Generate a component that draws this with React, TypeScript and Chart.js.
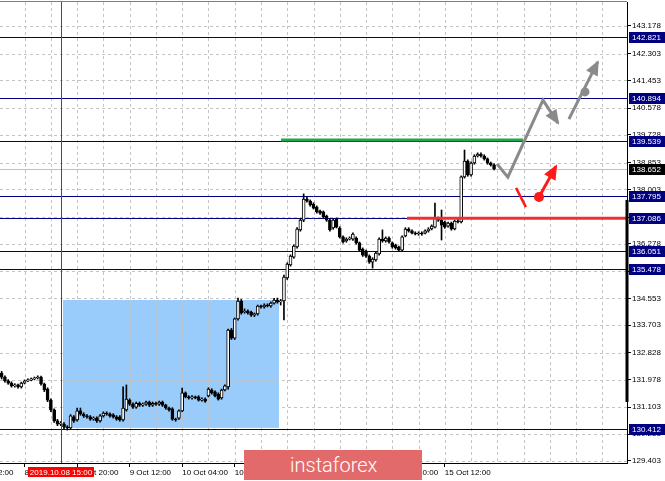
import React, { useEffect, useRef } from "react";
import { Chart, registerables } from "chart.js";
Chart.register(...registerables);

// ---- candle data (hourly bars, index 0 = 7 Oct 21:00) ----
const OPEN = [132.18,132.06,131.94,131.87,131.78,131.81,131.75,131.87,131.94,131.97,132.00,132.03,132.06,131.84,131.68,131.33,131.02,130.67,130.57,130.57,130.48,130.45,130.80,130.70,130.99,130.89,130.83,130.80,130.73,130.76,130.67,130.83,130.92,130.89,130.86,130.80,130.80,130.70,131.02,131.33,131.20,131.11,131.23,131.17,131.20,131.27,131.17,131.23,131.20,131.27,131.17,131.08,131.05,130.73,130.76,130.99,131.56,131.43,131.40,131.43,131.43,131.33,131.36,131.46,131.65,131.59,131.52,131.40,131.65,131.75,133.55,133.29,133.90,134.47,134.12,134.15,134.12,134.02,134.06,134.31,134.28,134.34,134.31,134.40,134.50,134.44,134.47,135.20,135.61,135.86,136.18,136.72,137.03,137.70,137.63,137.54,137.44,137.32,137.29,137.16,137.03,136.78,137.06,136.78,136.50,136.37,136.43,136.43,136.46,136.31,136.11,136.05,135.89,135.70,135.77,135.96,136.43,136.37,136.46,136.31,136.24,136.18,136.08,136.53,136.75,136.69,136.62,136.59,136.62,136.62,136.69,136.75,136.81,137.10,137.03,136.97,136.84,136.94,136.75,137.00,136.97,138.40,138.90,138.46,138.84,139.06,139.12,139.06,138.97,138.84,138.78];
const HIGH = [132.24,132.10,131.98,131.91,131.85,131.84,131.90,131.97,132.00,132.03,132.06,132.10,132.09,131.87,131.72,131.37,131.05,130.72,130.65,130.62,130.52,130.87,130.84,131.08,131.08,130.93,130.87,130.84,130.80,130.80,130.87,130.96,130.96,130.93,130.90,130.84,130.84,131.75,131.81,131.37,131.24,131.27,131.27,131.24,131.30,131.30,131.27,131.27,131.30,131.30,131.20,131.11,131.09,130.76,131.02,131.71,131.59,131.47,131.47,131.46,131.47,131.40,131.40,131.72,131.69,131.62,131.56,131.68,131.81,133.58,133.60,133.93,134.56,134.52,134.22,134.19,134.15,134.09,134.34,134.34,134.38,134.38,134.44,134.55,134.56,134.52,135.29,135.68,135.93,136.25,136.79,137.08,137.86,137.76,137.67,137.58,137.48,137.35,137.32,137.19,137.07,137.07,137.10,136.82,136.53,136.47,136.50,136.63,136.50,136.34,136.15,136.08,135.93,135.84,136.02,136.47,136.72,136.50,136.50,136.34,136.27,136.21,136.53,136.79,136.79,136.72,136.66,136.66,136.66,136.72,136.79,136.88,137.57,137.13,137.35,137.00,136.97,136.97,137.03,137.06,138.43,139.25,138.94,138.88,139.10,139.16,139.16,139.10,139.00,138.87,138.81];
const LOW = [132.00,131.90,131.83,131.74,131.74,131.71,131.71,131.84,131.91,131.94,131.97,132.00,131.80,131.60,131.28,130.96,130.62,130.52,130.52,130.42,130.38,130.41,130.62,130.66,130.85,130.78,130.76,130.69,130.69,130.62,130.63,130.79,130.85,130.79,130.76,130.69,130.66,130.66,130.98,131.16,131.07,131.07,131.13,131.13,131.16,131.12,131.13,131.16,131.16,131.13,131.04,130.98,130.69,130.66,130.72,130.96,131.40,131.36,131.36,131.37,131.30,131.30,131.26,131.43,131.52,131.43,131.33,131.36,131.62,131.68,133.25,133.25,133.86,134.05,134.08,134.05,133.98,133.97,134.02,134.24,134.24,134.28,134.27,134.37,134.40,134.34,133.87,135.15,135.57,135.82,136.14,136.68,136.98,137.60,137.47,137.38,137.25,137.21,137.09,136.99,136.68,136.74,136.78,136.46,136.30,136.33,136.40,136.39,136.27,136.04,135.88,135.85,135.66,135.51,135.73,135.92,136.33,136.33,136.30,136.14,136.11,136.04,136.04,136.50,136.65,136.59,136.56,136.55,136.55,136.59,136.65,136.72,136.78,136.99,136.40,136.77,136.81,136.71,136.72,136.94,136.94,138.36,138.42,138.42,138.80,139.03,139.02,138.93,138.80,138.74,138.62];
const CLOSE = [132.06,131.94,131.87,131.78,131.81,131.75,131.87,131.94,131.97,132.00,132.03,132.06,131.84,131.65,131.33,131.02,130.67,130.57,130.60,130.48,130.45,130.83,130.67,130.99,130.89,130.83,130.80,130.73,130.76,130.67,130.83,130.92,130.89,130.83,130.80,130.73,130.70,131.08,131.36,131.20,131.11,131.23,131.17,131.20,131.27,131.17,131.23,131.20,131.27,131.17,131.08,131.02,130.73,130.70,130.99,131.56,131.43,131.40,131.43,131.40,131.33,131.36,131.30,131.68,131.56,131.46,131.36,131.65,131.78,133.55,133.29,133.90,134.47,134.09,134.15,134.09,134.02,134.06,134.31,134.28,134.34,134.31,134.40,134.50,134.44,134.47,135.23,135.64,135.89,136.21,136.75,137.03,137.70,137.63,137.51,137.41,137.29,137.25,137.13,137.03,136.72,137.03,136.81,136.50,136.34,136.43,136.46,136.59,136.31,136.08,135.92,135.89,135.70,135.80,135.99,136.43,136.37,136.46,136.34,136.18,136.15,136.08,136.50,136.75,136.69,136.62,136.59,136.62,136.59,136.69,136.75,136.84,137.10,137.03,136.87,136.81,136.94,136.75,137.00,136.97,138.40,138.90,138.46,138.84,139.06,139.12,139.06,138.97,138.84,138.78,138.652];

// ---- axes ----
const X_MIN = -0.5;
const X_MAX = 190.5;
const Y_MIN = 129.338;
const Y_MAX = 143.938;
const X_TICK_INDEX = [-9, 7, 23, 39, 55, 71, 87, 103, 119, 135];
const X_TICK_LABELS = ["7 Oct 12:00", "8 Oct 04:00", "8 Oct 20:00", "9 Oct 12:00", "10 Oct 04:00", "10 Oct 20:00", "11 Oct 12:00", "14 Oct 04:00", "14 Oct 20:00", "15 Oct 12:00"];
const X_GRID_INDEX = [7, 15, 23, 31, 39, 47, 55, 63, 71, 79, 87, 95, 103, 111, 119, 127, 135, 143, 151, 159, 167, 175, 183];
const Y_TICKS = [143.178, 142.303, 141.453, 140.578, 139.728, 138.853, 138.003, 137.128, 136.278, 135.403, 134.553, 133.703, 132.828, 131.978, 131.103, 130.253, 129.403];

// ---- levels & annotations ----
const LEVELS = [142.821, 140.894, 139.539, 137.795, 137.086, 136.051, 135.478, 130.412];
const CURRENT_PRICE = 138.652;
const MARKER_INDEX = 18;
const MARKER_LABEL = "2019.10.08 15:00";
const RECT_X = [18.7, 84.5];
const RECT_Y = [130.45, 134.5];
const AXIS_BAR_Y = [131.27, 137.67];
const GREEN_X = [85.1, 158.8];
const GREEN_Y = 139.57;
const RED_X = [123.5, 190.5];
const RED_Y = 137.086;
const GREY_PATH_1_X = [150.9, 154.2, 164.9, 169.5];
const GREY_PATH_1_Y = [138.81, 138.39, 140.83, 140.1];
const GREY_PATH_2_X = [172.8, 181.6];
const GREY_PATH_2_Y = [140.23, 142.04];
const GREY_DOT = [177.7, 141.09];
const RED_SLASH_X = [156.7, 159.7];
const RED_SLASH_Y = [138.05, 137.44];
const RED_ARROW_X = [163.7, 168.9];
const RED_ARROW_Y = [137.76, 138.74];

const FONT = { family: '"Liberation Sans", Arial, sans-serif', size: 8 };
const NAVY = "#000080";
const GREY = "#8a8a8a";
const RED = "#ff1a1a";

const pts = (xs: number[], ys: number[]) => xs.map((x, i) => ({ x, y: ys[i] }));

function drawHead(ctx: CanvasRenderingContext2D, from: any, to: any, color: string, len = 13, half = 6.5) {
  const a = Math.atan2(to.y - from.y, to.x - from.x);
  const bx = to.x - len * Math.cos(a);
  const by = to.y - len * Math.sin(a);
  ctx.fillStyle = color;
  ctx.beginPath();
  ctx.moveTo(to.x + 2 * Math.cos(a), to.y + 2 * Math.sin(a));
  ctx.lineTo(bx + half * Math.sin(a), by - half * Math.cos(a));
  ctx.lineTo(bx - half * Math.sin(a), by + half * Math.cos(a));
  ctx.closePath();
  ctx.fill();
}

const overlay = {
  id: "overlay",
  beforeDatasetsDraw(chart: any) {
    const { ctx, chartArea: a, scales } = chart;
    const x = scales.x, y = scales.y;
    ctx.save();
    const rx0 = x.getPixelForValue(RECT_X[0]);
    const rx1 = x.getPixelForValue(RECT_X[1]);
    const ry0 = y.getPixelForValue(RECT_Y[1]);
    const ry1 = y.getPixelForValue(RECT_Y[0]);
    ctx.fillStyle = "#99cbfb";
    ctx.fillRect(rx0, ry0, rx1 - rx0, ry1 - ry0);
    ctx.strokeStyle = "#c4c4c4";
    ctx.lineWidth = 1;
    ctx.setLineDash([3, 3]);
    ctx.beginPath();
    for (const v of Y_TICKS) {
      const py = Math.round(y.getPixelForValue(v)) + 0.5;
      ctx.moveTo(a.left, py);
      ctx.lineTo(a.right, py);
    }
    for (const i of X_GRID_INDEX) {
      const px = Math.round(x.getPixelForValue(i)) + 0.5;
      ctx.moveTo(px, a.top);
      ctx.lineTo(px, a.bottom);
    }
    ctx.stroke();
    ctx.setLineDash([]);
    ctx.strokeStyle = "#c0c0c0";
    ctx.beginPath();
    const cp = Math.round(y.getPixelForValue(CURRENT_PRICE)) + 0.5;
    ctx.moveTo(a.left, cp);
    ctx.lineTo(a.right, cp);
    ctx.stroke();
    ctx.strokeStyle = NAVY;
    ctx.beginPath();
    for (const v of LEVELS) {
      const py = Math.round(y.getPixelForValue(v)) + 0.5;
      ctx.moveTo(a.left, py);
      ctx.lineTo(a.right, py);
    }
    ctx.stroke();
    ctx.restore();
  },
  afterDatasetsDraw(chart: any) {
    const { ctx, chartArea: a, scales } = chart;
    ctx.save();
    // marker vertical line
    const mx = Math.round(scales.x.getPixelForValue(MARKER_INDEX));
    ctx.fillStyle = "#ff0000";
    ctx.fillRect(mx, a.top, 1, a.bottom - a.top);
    const heads: [number, string][] = [[0, GREY], [1, GREY], [3, RED]];
    for (const [idx, color] of heads) {
      const d = chart.getDatasetMeta(idx).data;
      const n = d.length;
      drawHead(ctx, d[n - 2], d[n - 1], color);
    }
    ctx.restore();
  },
  afterDraw(chart: any) {
    const { ctx, chartArea: a, scales } = chart;
    const x = scales.x, y = scales.y;
    ctx.save();
    ctx.strokeStyle = "#808080";
    ctx.lineWidth = 1;
    ctx.beginPath();
    ctx.moveTo(0, a.top - 0.5);
    ctx.lineTo(a.right, a.top - 0.5);
    ctx.stroke();
    ctx.fillStyle = "#000";
    const b0 = y.getPixelForValue(AXIS_BAR_Y[1]);
    const b1 = y.getPixelForValue(AXIS_BAR_Y[0]);
    ctx.fillRect(a.right - 1.5, b0, 3, b1 - b0);
    ctx.font = '8px "Liberation Sans", Arial, sans-serif';
    ctx.textBaseline = "middle";
    ctx.textAlign = "left";
    const box = (v: number, bg: string) => {
      const py = Math.round(y.getPixelForValue(v));
      ctx.fillStyle = bg;
      ctx.fillRect(a.right + 2, py - 5, 36, 11);
      ctx.fillStyle = "#fff";
      ctx.fillText(v.toFixed(3), a.right + 5, py + 0.5);
    };
    for (const v of LEVELS) box(v, NAVY);
    box(CURRENT_PRICE, "#000");
    const mx = Math.round(x.getPixelForValue(MARKER_INDEX));
    ctx.fillStyle = "#ff0000";
    ctx.fillRect(mx - 33, a.bottom + 4, 66, 10);
    ctx.fillStyle = "#fff";
    ctx.textAlign = "center";
    ctx.fillText(MARKER_LABEL, mx, a.bottom + 9.5);
    ctx.restore();
  },
};

export default function App() {
  const ref = useRef<HTMLCanvasElement | null>(null);
  useEffect(() => {
    if (!ref.current) return;
    const bodyBg = OPEN.map((o, i) => (CLOSE[i] >= o ? "#ffffff" : "#000000"));
    const chart = new Chart(ref.current, {
      type: "bar",
      data: {
        datasets: [
          { type: "line", data: pts(GREY_PATH_1_X, GREY_PATH_1_Y), borderColor: GREY, borderWidth: 3, pointRadius: 0, tension: 0, fill: false, order: 0 },
          { type: "line", data: pts(GREY_PATH_2_X, GREY_PATH_2_Y), borderColor: GREY, borderWidth: 3, pointRadius: 0, tension: 0, fill: false, order: 0 },
          { type: "line", data: pts(RED_SLASH_X, RED_SLASH_Y), borderColor: RED, borderWidth: 2.5, pointRadius: 0, tension: 0, fill: false, order: 0 },
          { type: "line", data: pts(RED_ARROW_X, RED_ARROW_Y), borderColor: RED, borderWidth: 3, pointRadius: 0, tension: 0, fill: false, order: 0 },
          { type: "line", data: [{ x: GREY_DOT[0], y: GREY_DOT[1] }], showLine: false, pointRadius: 4.5, pointBackgroundColor: GREY, pointBorderWidth: 0, order: 0 },
          { type: "line", data: [{ x: RED_ARROW_X[0], y: RED_ARROW_Y[0] }], showLine: false, pointRadius: 5, pointBackgroundColor: RED, pointBorderWidth: 0, order: 0 },
          { type: "line", data: pts(GREEN_X, [GREEN_Y, GREEN_Y]), borderColor: "#23a54a", borderWidth: 3, pointRadius: 0, fill: false, order: 1 },
          { type: "line", data: pts(RED_X, [RED_Y, RED_Y]), borderColor: "#f03030", borderWidth: 3, pointRadius: 0, fill: false, order: 1 },
          {
            type: "bar",
            data: OPEN.map((o, i) => ({ x: i, y: [o, CLOSE[i]] })),
            backgroundColor: bodyBg,
            borderColor: "#000",
            borderWidth: 1,
            borderSkipped: false,
            barThickness: 3,
            minBarLength: 1,
            grouped: false,
            order: 2,
          },
          {
            type: "bar",
            data: LOW.map((l, i) => ({ x: i, y: [l, HIGH[i]] })),
            backgroundColor: "#000",
            borderWidth: 0,
            barThickness: 1,
            grouped: false,
            order: 3,
          },
        ],
      },
      options: {
        responsive: false,
        animation: false,
        devicePixelRatio: 1,
        events: [],
        layout: { autoPadding: false, padding: { top: 2, left: 0, right: 0, bottom: 0 } },
        plugins: { legend: { display: false }, tooltip: { enabled: false } },
        scales: {
          x: {
            type: "linear",
            position: "bottom",
            min: X_MIN,
            max: X_MAX,
            offset: false,
            grid: { display: true, drawOnChartArea: false, drawTicks: true, tickLength: 4, tickColor: "#000", color: "#000", offset: false },
            border: { display: true, color: "#000", width: 1 },
            ticks: {
              autoSkip: false,
              maxRotation: 0,
              minRotation: 0,
              align: "start",
              padding: 1,
              color: "#000",
              font: FONT,
              callback: (v: any) => {
                const k = X_TICK_INDEX.indexOf(Number(v));
                return k >= 0 ? X_TICK_LABELS[k] : "";
              },
            },
            afterBuildTicks: (s: any) => {
              s.ticks = X_TICK_INDEX.map((v) => ({ value: v }));
            },
            afterFit: (s: any) => {
              s.height = 18;
              s.paddingLeft = 0;
              s.paddingRight = 0;
            },
          },
          y: {
            type: "linear",
            position: "right",
            min: Y_MIN,
            max: Y_MAX,
            grid: { display: true, drawOnChartArea: false, drawTicks: true, tickLength: 4, tickColor: "#000", color: "#000" },
            border: { display: true, color: "#000", width: 1 },
            ticks: { padding: 1, color: "#000", font: FONT, autoSkip: false, callback: (v: any) => Number(v).toFixed(3) },
            afterBuildTicks: (s: any) => {
              s.ticks = Y_TICKS.map((v) => ({ value: v }));
            },
            afterFit: (s: any) => {
              s.width = 38;
              s.paddingTop = 0;
              s.paddingBottom = 0;
            },
          },
        },
      },
      plugins: [overlay],
    } as any);
    return () => chart.destroy();
  }, []);
  return (
    <div style={{ position: "fixed", left: 0, top: 0, width: 665, height: 481, background: "#fff", overflow: "hidden" }}>
      <canvas ref={ref} width={665} height={481} style={{ display: "block" }} />
      <div
        style={{
          position: "absolute",
          left: 244,
          top: 450,
          width: 178,
          height: 30,
          background: "#e36a6a",
          color: "#fff",
          fontFamily: 'Roboto, "Open Sans", sans-serif',
          fontWeight: 300,
          fontSize: 20,
          lineHeight: "30px",
          paddingLeft: 46,
          boxSizing: "border-box",
        }}
      >
        instaforex
      </div>
    </div>
  );
}
